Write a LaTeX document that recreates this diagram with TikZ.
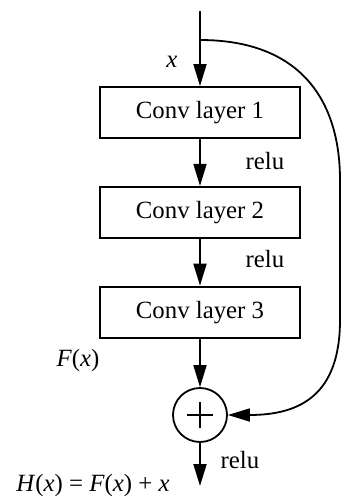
\documentclass[tikz,border=0pt]{standalone}
\usepackage{fontspec}
\setmainfont{Liberation Serif}
\usetikzlibrary{arrows.meta,positioning}

\begin{document}
\begin{tikzpicture}[x=0.5pt,y=-0.5pt,
    font=\fontsize{12.4}{14}\selectfont,
    layer/.style={draw,line width=0.9pt,minimum width=100pt,minimum height=25.5pt,inner sep=0pt},
    flow/.style={line width=0.9pt,-{Triangle[length=11pt,width=6.5pt]}},
    node distance=23.5pt]
    \useasboundingbox (0,0) rectangle (342,499);
    %
    \coordinate (in) at (200,11);
    \coordinate (fork) at (200,40);
    \node[layer] (conv1) at (200,112.5) {Conv layer 1};
    \node[layer, below=of conv1] (conv2) {Conv layer 2};
    \node[layer, below=of conv2] (conv3) {Conv layer 3};
    \node[draw,circle,line width=0.9pt,minimum size=27pt,inner sep=0pt] (sum) at (200,415) {};
    \coordinate (out) at (200,486);
    %
    \node (lx)   at (172,62)  {\textit{x}};
    \node (lr1)  at (265,161) {relu};
    \node (lr2)  at (265,259) {relu};
    \node (lf)   at (78,361)  {\textit{F}(\textit{x})};
    \node (lr3)  at (240,460) {relu};
    \node (lh)   at (93,486)  {\textit{H}(\textit{x}) = \textit{F}(\textit{x}) + \textit{x}};
    %
    \draw[line width=0.9pt] (in) -- (fork);
    \draw[flow] (fork) -- (conv1);
    \draw[flow] (conv1) -- (conv2);
    \draw[flow] (conv2) -- (conv3);
    \draw[flow] (conv3) -- (sum);
    \draw[flow] (sum) -- (out);
    \draw[flow] (fork) .. controls (300,40) and (340,100) .. (340,180)
        -- (340,320) .. controls (340,395) and (300,415) .. (sum.east);
    % plus sign
    \draw[line width=0.6pt] ([xshift=-6.5pt]sum.center) -- ([xshift=6.5pt]sum.center);
    \draw[line width=0.6pt] ([yshift=-6.5pt]sum.center) -- ([yshift=6.5pt]sum.center);
\end{tikzpicture}
\end{document}
